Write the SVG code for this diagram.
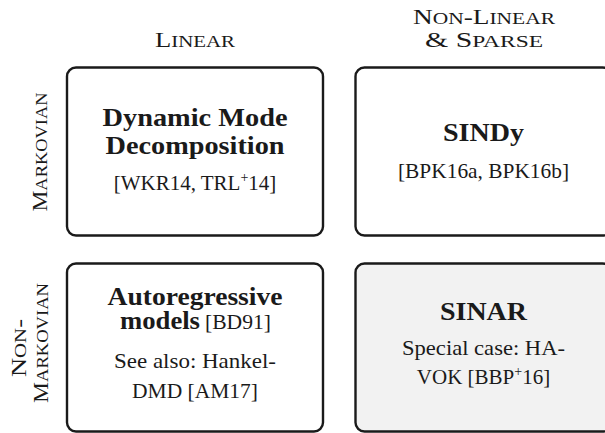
<svg xmlns="http://www.w3.org/2000/svg" width="605" height="433" viewBox="0 0 605 433">
  <style>
    .box { fill: #ffffff; stroke: #1a1a1a; stroke-width: 2.4; }
    .box.shaded { fill: #f2f2f2; }
    text { font-family: 'Liberation Serif', 'DejaVu Serif', serif; fill: #1a1a1a; }
    .title { font-size: 25px; font-weight: bold; text-anchor: middle; }
    .body { font-size: 21px; text-anchor: middle; }
    .head { font-size: 21px; text-anchor: middle; }
    .sc { font-size: 16.5px; }
    .sup { font-size: 14px; }
  </style>

  <!-- column headings -->
  <g id="col-linear">
    <text class="head" x="195" y="47" textLength="80" lengthAdjust="spacingAndGlyphs">L<tspan class="sc">INEAR</tspan></text>
  </g>
  <g id="col-nonlinear">
    <text class="head" x="484" y="24" textLength="142" lengthAdjust="spacingAndGlyphs">N<tspan class="sc">ON</tspan>-L<tspan class="sc">INEAR</tspan></text>
    <text class="head" x="484" y="47" textLength="118" lengthAdjust="spacingAndGlyphs">&amp; S<tspan class="sc">PARSE</tspan></text>
  </g>

  <!-- row headings, reading bottom to top -->
  <g id="row-markovian">
    <text class="head" x="47" y="152" transform="rotate(-90 47 152)" textLength="119" lengthAdjust="spacingAndGlyphs">M<tspan class="sc">ARKOVIAN</tspan></text>
  </g>
  <g id="row-nonmarkovian">
    <text class="head" x="26" y="348" transform="rotate(-90 26 348)" textLength="58" lengthAdjust="spacingAndGlyphs">N<tspan class="sc">ON</tspan>-</text>
    <text class="head" x="48" y="343" transform="rotate(-90 48 343)" textLength="120" lengthAdjust="spacingAndGlyphs">M<tspan class="sc">ARKOVIAN</tspan></text>
  </g>

  <!-- Markovian / linear -->
  <g id="dmd">
    <rect class="box" x="67" y="67.5" width="256" height="168" rx="9"/>
    <text class="title" x="195" y="126" textLength="185" lengthAdjust="spacingAndGlyphs">Dynamic Mode</text>
    <text class="title" x="195" y="154" textLength="179" lengthAdjust="spacingAndGlyphs">Decomposition</text>
    <text class="body" x="195" y="190">[WKR14, TRL<tspan class="sup" dy="-8">+</tspan><tspan dy="8">14]</tspan></text>
  </g>

  <!-- Markovian / non-linear & sparse -->
  <g id="sindy">
    <rect class="box" x="355.5" y="67.5" width="256" height="168" rx="9"/>
    <text class="title" x="483.5" y="141" textLength="81" lengthAdjust="spacingAndGlyphs">SINDy</text>
    <text class="body" x="483.5" y="178" textLength="171" lengthAdjust="spacingAndGlyphs">[BPK16a, BPK16b]</text>
  </g>

  <!-- non-Markovian / linear -->
  <g id="autoregressive">
    <rect class="box" x="67" y="263.5" width="256" height="168" rx="9"/>
    <text class="title" x="195" y="305" textLength="175" lengthAdjust="spacingAndGlyphs">Autoregressive</text>
    <text class="title" x="120" y="329" style="text-anchor:start" textLength="80" lengthAdjust="spacingAndGlyphs">models</text>
    <text class="body" x="205" y="329" style="text-anchor:start" textLength="66" lengthAdjust="spacingAndGlyphs">[BD91]</text>
    <text class="body" x="195" y="368" textLength="162" lengthAdjust="spacingAndGlyphs">See also:  Hankel-</text>
    <text class="body" x="195" y="398" textLength="126" lengthAdjust="spacingAndGlyphs">DMD [AM17]</text>
  </g>

  <!-- non-Markovian / non-linear & sparse -->
  <g id="sinar">
    <rect class="box shaded" x="355.5" y="263.5" width="256" height="168" rx="9"/>
    <text class="title" x="483.5" y="320" textLength="87" lengthAdjust="spacingAndGlyphs">SINAR</text>
    <text class="body" x="483.5" y="355" textLength="163" lengthAdjust="spacingAndGlyphs">Special case:  HA-</text>
    <text class="body" x="483.5" y="384">VOK [BBP<tspan class="sup" dy="-8">+</tspan><tspan dy="8">16]</tspan></text>
  </g>

  <g id="connectors"/>
</svg>
